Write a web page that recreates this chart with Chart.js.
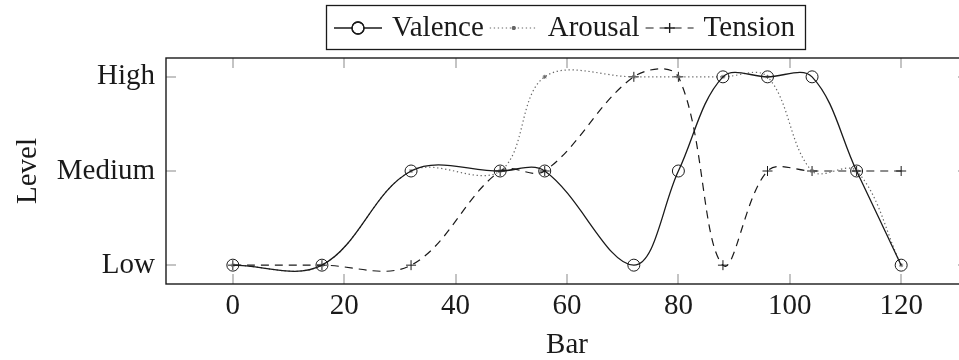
<!DOCTYPE html>
<html>
<head>
<meta charset="utf-8">
<script src="https://cdn.jsdelivr.net/npm/chart.js@4"></script>
<style>
  html, body { margin: 0; padding: 0; background: #fff; overflow: hidden; }
  canvas { display: block; }
</style>
</head>
<body>
<canvas id="moodChart" width="975" height="360"></canvas>
<script>
// bar positions where the annotations were taken
const bars = [0, 16, 32, 48, 56, 72, 80, 88, 96, 104, 112, 120];
const levels = ['Low', 'Medium', 'High'];

const valence = ['Low', 'Low', 'Medium', 'Medium', 'Medium', 'Low', 'Medium', 'High', 'High', 'High', 'Medium', 'Low'];
const arousal = ['Low', 'Low', 'Medium', 'Medium', 'High', 'High', 'High', 'High', 'High', 'Medium', 'Medium', 'Low'];
const tension = ['Low', 'Low', 'Low', 'Medium', 'Medium', 'High', 'High', 'Low', 'Medium', 'Medium', 'Medium', 'Medium'];

const xTicks = [0, 20, 40, 60, 80, 100, 120];

const serif = '"Liberation Serif", "Times New Roman", serif';
const ink = '#1a1a1a';
const fontSize = 29;

function points(series) {
  return bars.map((b, i) => ({ x: b, y: levels.indexOf(series[i]) }));
}

// pgfplots-like frame: black box with short grey ticks pointing inward
const frame = {
  id: 'frame',
  beforeDatasetsDraw(chart) {
    const { ctx, chartArea: a, scales: { x, y } } = chart;
    const len = 10;
    ctx.save();
    ctx.strokeStyle = '#c4c4c4';
    ctx.lineWidth = 2;
    ctx.beginPath();
    x.ticks.forEach(t => {
      const px = Math.round(x.getPixelForValue(t.value));
      ctx.moveTo(px, a.bottom); ctx.lineTo(px, a.bottom - len);
      ctx.moveTo(px, a.top); ctx.lineTo(px, a.top + len);
    });
    y.ticks.forEach(t => {
      const py = Math.round(y.getPixelForValue(t.value));
      ctx.moveTo(a.left, py); ctx.lineTo(a.left + len, py);
      ctx.moveTo(a.right, py); ctx.lineTo(a.right - len, py);
    });
    ctx.stroke();
    ctx.restore();
  },
  afterDraw(chart) {
    const { ctx, chartArea: a } = chart;
    ctx.save();
    ctx.strokeStyle = ink;
    ctx.lineWidth = 1.4;
    ctx.strokeRect(a.left, a.top, a.right - a.left, a.bottom - a.top);
    ctx.restore();
  }
};

// boxed legend above the plot with line samples
const boxedLegend = {
  id: 'boxedLegend',
  afterDraw(chart) {
    const { ctx, chartArea: a } = chart;
    const sets = chart.data.datasets;
    const sample = 48, gapIn = 10, gapOut = 6, padL = 8, padR = 10;
    const top = 5, h = 44, mid = top + h / 2 + 1;
    ctx.save();
    ctx.font = fontSize + 'px ' + serif;
    const widths = sets.map(d => ctx.measureText(d.label).width);
    let total = padL + padR;
    widths.forEach((w, i) => { total += sample + gapIn + w + (i < sets.length - 1 ? gapOut : 0); });
    const left = Math.round((a.left + a.right) / 2 - total / 2) - 2;

    ctx.fillStyle = '#fff';
    ctx.fillRect(left, top, total, h);
    ctx.strokeStyle = ink;
    ctx.lineWidth = 1.3;
    ctx.strokeRect(left + 0.5, top + 0.5, total, h);

    let x = left + padL;
    sets.forEach((d, i) => {
      ctx.strokeStyle = d.borderColor;
      ctx.lineWidth = d.borderWidth;
      ctx.setLineDash(d.borderDash || []);
      ctx.beginPath();
      ctx.moveTo(x, mid);
      ctx.lineTo(x + sample, mid);
      ctx.stroke();
      ctx.setLineDash([]);
      Chart.helpers.drawPoint(ctx, {
        pointStyle: d.pointStyle,
        radius: d.pointRadius,
        borderWidth: 1
      }, x + sample / 2, mid);
      ctx.stroke();
      x += sample + gapIn;
      ctx.fillStyle = ink;
      ctx.textBaseline = 'middle';
      ctx.textAlign = 'left';
      ctx.fillText(d.label, x, mid);
      x += widths[i] + gapOut;
    });
    ctx.restore();
  }
};

new Chart(document.getElementById('moodChart'), {
  type: 'line',
  data: {
    datasets: [{
      label: 'Valence',
      data: points(valence),
      borderColor: ink,
      borderWidth: 1.3,
      pointStyle: 'circle',
      pointRadius: 6,
      pointBorderWidth: 1,
      pointBorderColor: ink,
      pointBackgroundColor: 'rgba(0,0,0,0)',
      tension: 0.36
    }, {
      label: 'Arousal',
      data: points(arousal),
      borderColor: '#666',
      borderWidth: 1.2,
      borderDash: [1.3, 2.7],
      pointStyle: 'star',
      pointRadius: 2,
      pointBorderWidth: 1,
      pointBorderColor: '#666',
      pointBackgroundColor: 'rgba(0,0,0,0)',
      tension: 0.36
    }, {
      label: 'Tension',
      data: points(tension),
      borderColor: ink,
      borderWidth: 1.2,
      borderDash: [8, 6],
      pointStyle: 'cross',
      pointRadius: 5,
      pointBorderWidth: 1,
      pointBorderColor: ink,
      pointBackgroundColor: 'rgba(0,0,0,0)',
      tension: 0.36
    }]
  },
  options: {
    responsive: false,
    animation: false,
    devicePixelRatio: 1,
    layout: { padding: { top: 58, right: 6, left: 0, bottom: 0 } },
    plugins: {
      legend: { display: false },
      tooltip: { enabled: false }
    },
    scales: {
      x: {
        type: 'linear',
        min: -12,
        max: 132,
        grid: { display: false },
        border: { display: false },
        afterBuildTicks: s => { s.ticks = xTicks.map(v => ({ value: v })); },
        afterFit: s => { s.height = 76; },
        ticks: {
          color: ink,
          padding: -3,
          maxRotation: 0,
          font: { family: serif, size: fontSize }
        },
        title: {
          display: true,
          text: 'Bar',
          color: ink,
          padding: { top: 0, bottom: -3 },
          font: { family: serif, size: fontSize }
        }
      },
      y: {
        type: 'linear',
        min: -0.2,
        max: 2.2,
        grid: { display: false },
        border: { display: false },
        afterBuildTicks: s => { s.ticks = levels.map((_, i) => ({ value: i })); },
        afterFit: s => { s.width = 166; },
        ticks: {
          color: ink,
          padding: 3,
          font: { family: serif, size: fontSize },
          callback: v => levels[v]
        },
        title: {
          display: true,
          text: 'Level',
          color: ink,
          padding: { top: 11, bottom: 0 },
          font: { family: serif, size: fontSize }
        }
      }
    }
  },
  plugins: [frame, boxedLegend]
});
</script>
</body>
</html>
